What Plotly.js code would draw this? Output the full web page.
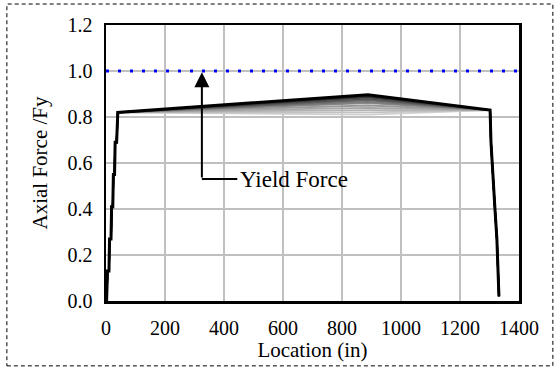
<!DOCTYPE html>
<html>
<head>
<meta charset="utf-8">
<script src="https://cdn.plot.ly/plotly-3.0.1.min.js"></script>
<style>
html,body{margin:0;padding:0;background:#fff;}
#chart{width:555px;height:370px;}
</style>
</head>
<body>
<div id="chart"></div>
<script>
// Location along member (in)
const locations = [2, 5, 10, 12, 17, 19, 23, 25, 29, 31, 36, 40, 888, 1302, 1305, 1310, 1318, 1325, 1329, 1332];
// Axial force ratio for each load step (lightest to darkest); only the peak value differs
const risePart = [0.0, 0.13, 0.13, 0.27, 0.27, 0.41, 0.41, 0.55, 0.55, 0.69, 0.69, 0.82];
const dropPart = [0.83, 0.69, 0.56, 0.41, 0.27, 0.15, 0.02];
const peakValues = [0.81, 0.82, 0.83, 0.84, 0.85, 0.86, 0.866, 0.872, 0.878, 0.884, 0.89, 0.897];
const stepColors = ['#cfcfcf','#c2c2c2','#b4b4b4','#a6a6a6','#989898','#8a8a8a','#7a7a7a','#6a6a6a','#575757','#444444','#2c2c2c','#000000'];
// Yield force line
const yieldX = [0, 1400];
const yieldY = [1.0, 1.0];
// Axis ticks
const xTicks = [0, 200, 400, 600, 800, 1000, 1200, 1400];
const yTicks = [0.0, 0.2, 0.4, 0.6, 0.8, 1.0, 1.2];

const serif = 'Liberation Serif, Times New Roman, serif';
const traces = peakValues.map((p, i) => ({
  type: 'scatter', mode: 'lines',
  x: locations,
  y: risePart.concat([p]).concat(dropPart),
  line: {color: stepColors[i], width: i === peakValues.length - 1 ? 3 : 1.8},
  showlegend: false, hoverinfo: 'skip'
}));
traces.push({
  type: 'scatter', mode: 'lines', x: yieldX, y: yieldY,
  line: {color: '#0000ff', width: 3, dash: '3px,9px'},
  showlegend: false, hoverinfo: 'skip'
});

const layout = {
  width: 555, height: 370,
  margin: {l: 106, r: 36, t: 25, b: 69},
  paper_bgcolor: '#fff', plot_bgcolor: '#fff',
  font: {family: serif, size: 20, color: '#000'},
  showlegend: false,
  xaxis: {
    range: [0, 1400], tickvals: xTicks, ticktext: xTicks.map(String),
    showgrid: true, gridcolor: '#c0c0c0', gridwidth: 1.5,
    showline: true, mirror: true, linecolor: '#000', linewidth: 2.5,
    ticks: '', ticklabelstandoff: 7, zeroline: false,
    tickfont: {family: serif, size: 20},
    title: {text: 'Location (in)', font: {family: serif, size: 21}, standoff: 3}
  },
  yaxis: {
    range: [0, 1.2], tickvals: yTicks, ticktext: yTicks.map(v => v.toFixed(1)),
    showgrid: true, gridcolor: '#c0c0c0', gridwidth: 1.5,
    showline: true, mirror: true, linecolor: '#000', linewidth: 2.5,
    ticks: '', ticklabelstandoff: 7, zeroline: false,
    tickfont: {family: serif, size: 20},
    title: {text: 'Axial Force /Fy', font: {family: serif, size: 21}, standoff: 14}
  },
  shapes: [
    {type: 'rect', xref: 'paper', yref: 'paper', x0: -0.240, x1: 1.082, y0: -0.235, y1: 1.076,
     line: {color: '#000', width: 1, dash: '4px,3px'}, fillcolor: 'rgba(0,0,0,0)'},
    {type: 'line', xref: 'x', yref: 'y', x0: 325, x1: 445, y0: 0.53, y1: 0.53,
     line: {color: '#000', width: 2}}
  ],
  annotations: [
    {x: 325, y: 0.995, xref: 'x', yref: 'y', ax: 325, ay: 0.53, axref: 'x', ayref: 'y',
     text: '', showarrow: true, arrowhead: 2, arrowsize: 1.5, arrowwidth: 2, arrowcolor: '#000'},
    {x: 446, y: 0.53, xref: 'x', yref: 'y', text: 'Yield Force', showarrow: false,
     xanchor: 'left', yanchor: 'middle', font: {family: serif, size: 23, color: '#000'}}
  ]
};

Plotly.newPlot('chart', traces, layout, {displayModeBar: false, staticPlot: true});
</script>
</body>
</html>
